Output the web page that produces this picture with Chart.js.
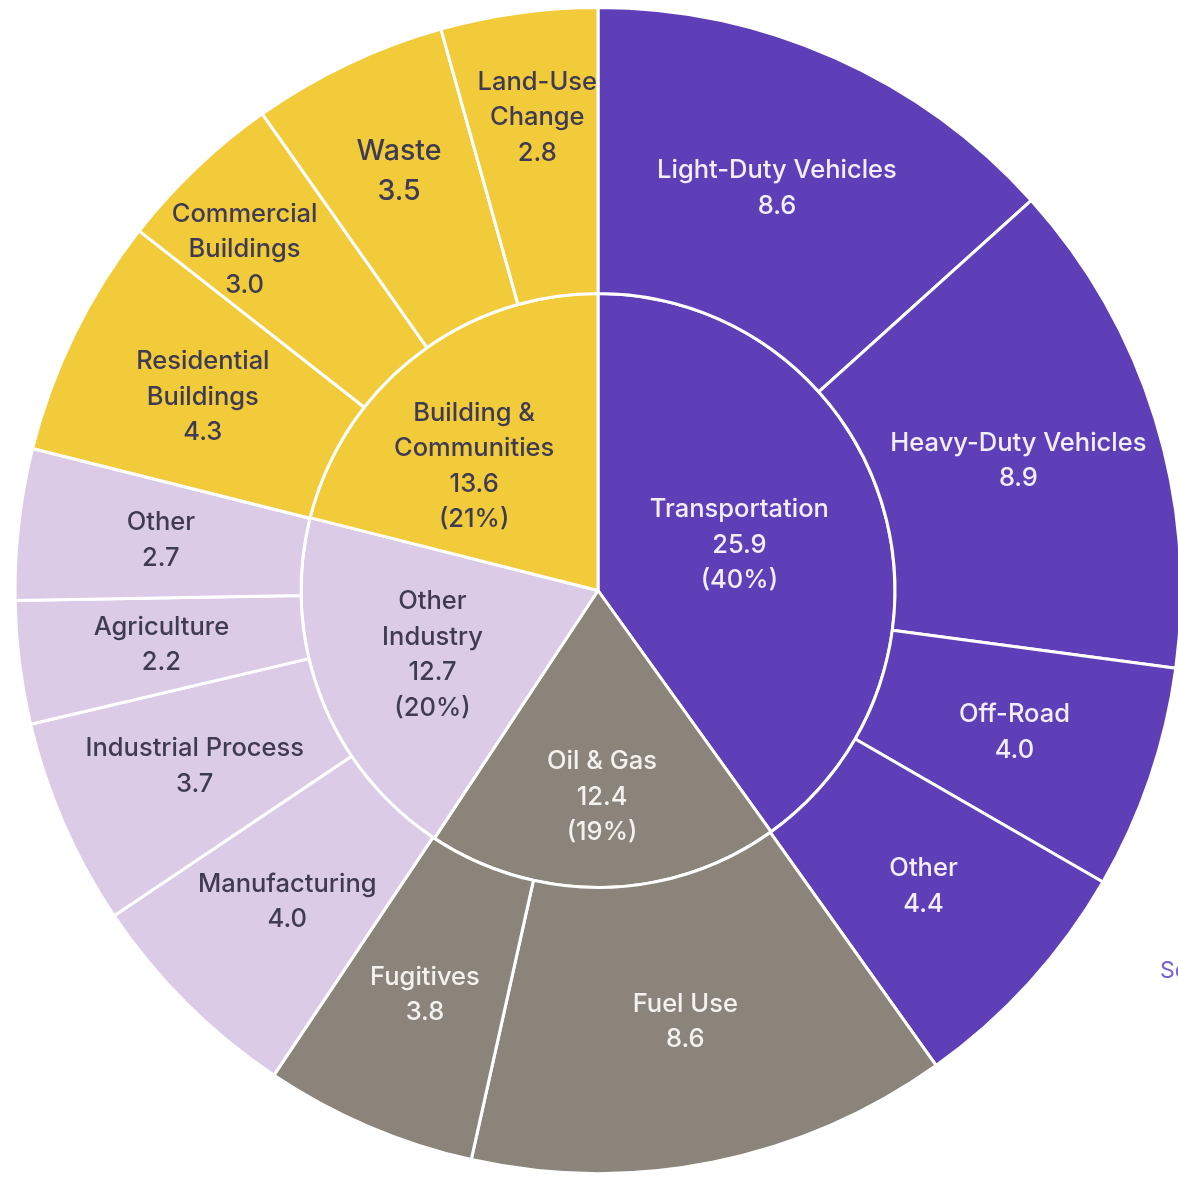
<!DOCTYPE html>
<html>
<head>
<meta charset="utf-8">
<script src="https://cdn.jsdelivr.net/npm/chart.js@4.4.0/dist/chart.umd.min.js"></script>
<style>
  html, body { margin: 0; padding: 0; background: #ffffff; overflow: hidden; width: 1178px; height: 1177px; }
  #wrap { position: absolute; left: 0; top: 6px; width: 1196px; height: 1169px; }
  #source { position: absolute; left: 1160px; top: 956px; font-family: "Inter", sans-serif; font-size: 23px; color: #7d62d2; white-space: nowrap; }
</style>
</head>
<body>
<div id="wrap"><canvas id="sunburst"></canvas></div>
<div id="source">Source</div>
<script>
// inner ring : sectors
var sectors = ['Transportation', 'Oil & Gas', 'Other Industry', 'Building & Communities'];
var sectorValues = [25.9, 12.4, 12.7, 13.6];

// outer ring : sub-sectors (clockwise from 12 o'clock)
var subSectors = ['Light-Duty Vehicles', 'Heavy-Duty Vehicles', 'Off-Road', 'Other',
                  'Fuel Use', 'Fugitives',
                  'Manufacturing', 'Industrial Process', 'Agriculture', 'Other',
                  'Residential Buildings', 'Commercial Buildings', 'Waste', 'Land-Use Change'];
var subValues = [8.6, 8.9, 4.0, 4.4,
                 8.6, 3.8,
                 4.0, 3.7, 2.2, 2.7,
                 4.3, 3.0, 3.5, 2.8];
var subParent = [0, 0, 0, 0, 1, 1, 2, 2, 2, 2, 3, 3, 3, 3];

// colours per sector
var sectorColors = ['#5f3fb8', '#8a847b', '#dccbe7', '#f2cb3b'];
var textColors = ['#f2eefb', '#f4f2ee', '#3f3b52', '#3f3b52'];

// how names break over lines
var wrapNames = {
    'Building & Communities': ['Building &', 'Communities'],
    'Other Industry': ['Other', 'Industry'],
    'Residential Buildings': ['Residential', 'Buildings'],
    'Commercial Buildings': ['Commercial', 'Buildings'],
    'Land-Use Change': ['Land-Use', 'Change']
};
// label nudges [extra radius px, extra angle deg] (by item index)
var nudgeInner = {1: [58, 0], 2: [29, 0], 3: [27, -7]};
var nudgeOuter = {11: [51, -2.5], 12: [24, 0], 13: [37, 0.5]};
var bigOuter = {12: 1.12};

var sectorTotal = sectorValues.reduce(function (a, b) { return a + b; }, 0);

function linesFor(name) {
    return wrapNames[name] ? wrapNames[name].slice() : [name];
}

var labelPlugin = {
    id: 'sunLabels',
    afterDatasetsDraw: function (chart) {
        var ctx = chart.ctx;
        ctx.save();
        ctx.textAlign = 'center';
        ctx.textBaseline = 'middle';
        chart.data.datasets.forEach(function (ds, di) {
            var meta = chart.getDatasetMeta(di);
            meta.data.forEach(function (arc, i) {
                var p = arc.getProps(['x', 'y', 'startAngle', 'endAngle', 'innerRadius', 'outerRadius'], true);
                var ang = (p.startAngle + p.endAngle) / 2;
                var r = (p.innerRadius + p.outerRadius) / 2;
                var nud = (di === 0 ? nudgeOuter : nudgeInner)[i];
                if (nud) { r += nud[0]; ang += nud[1] * Math.PI / 180; }
                var cx = p.x + Math.cos(ang) * r;
                var cy = p.y + Math.sin(ang) * r;
                var lines, col, scale = 1;
                if (di === 0) {
                    lines = linesFor(subSectors[i]);
                    lines.push(subValues[i].toFixed(1));
                    col = textColors[subParent[i]];
                    scale = bigOuter[i] || 1;
                } else {
                    lines = linesFor(sectors[i]);
                    lines.push(sectorValues[i].toFixed(1));
                    lines.push('(' + Math.round(sectorValues[i] / sectorTotal * 100) + '%)');
                    col = textColors[i];
                }
                ctx.font = '500 ' + (25.5 * scale) + 'px "Inter", sans-serif';
                ctx.fillStyle = col;
                var lh = 35.5 * scale;
                var y0 = cy - (lines.length - 1) * lh / 2;
                lines.forEach(function (t, k) { ctx.fillText(t, cx, y0 + k * lh); });
            });
        });
        ctx.restore();
    }
};

var ctx = document.getElementById('sunburst').getContext('2d');
var sunChart = new Chart(ctx, {
    type: 'doughnut',
    data: {
        labels: subSectors,
        datasets: [
            {
                data: subValues,
                backgroundColor: subParent.map(function (k) { return sectorColors[k]; }),
                borderColor: '#ffffff',
                borderWidth: 3,
                weight: 286
            },
            {
                data: sectorValues,
                backgroundColor: sectorColors,
                borderColor: '#ffffff',
                borderWidth: 3,
                weight: 297
            }
        ]
    },
    options: {
        responsive: true,
        maintainAspectRatio: false,
        animation: false,
        cutout: 0,
        layout: { padding: 0 },
        plugins: {
            legend: { display: false },
            tooltip: { enabled: false }
        }
    },
    plugins: [labelPlugin]
});
</script>
</body>
</html>
